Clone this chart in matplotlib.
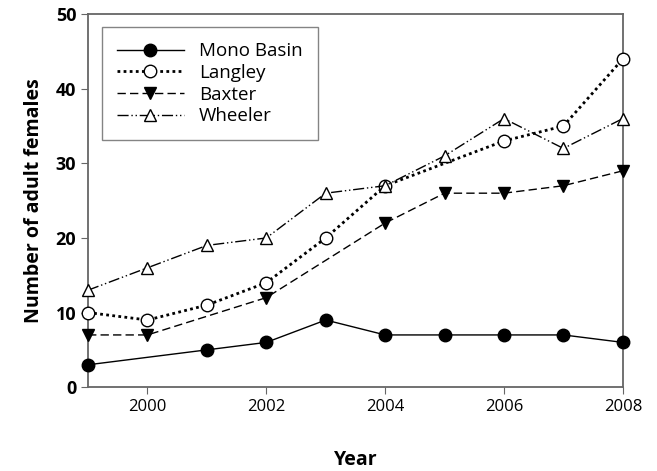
import numpy as np
import matplotlib
matplotlib.use("Agg")
import matplotlib.pyplot as plt

years = [1999, 2000, 2001, 2002, 2003, 2004, 2005, 2006, 2007, 2008]
nan = np.nan
mono_basin = [3, nan, 5, 6, 9, 7, 7, 7, 7, 6]
langley = [10, 9, 11, 14, 20, 27, nan, 33, 35, 44]
baxter = [7, 7, nan, 12, nan, 22, 26, 26, 27, 29]
wheeler = [13, 16, 19, 20, 26, 27, 31, 36, 32, 36]

plt.rcParams["font.family"] = ["Open Sans", "DejaVu Sans"]

fig = plt.figure(figsize=(6.57, 4.71), dpi=100)
ax = fig.add_axes([0.134, 0.178, 0.814, 0.792])

series = [
    ("Mono Basin", mono_basin, dict(linestyle="-", marker="o", mfc="black", ms=9)),
    ("Langley", langley, dict(linestyle=(0, (1, 1.2)), marker="o", mfc="white", ms=9, lw=2)),
    ("Baxter", baxter, dict(linestyle=(0, (6, 3)), marker="v", mfc="black", ms=9)),
    ("Wheeler", wheeler, dict(linestyle=(0, (8, 2, 1, 2, 1, 2)), marker="^", mfc="white", ms=9)),
]

x = np.array(years)
for name, vals, st in series:
    v = np.array(vals, dtype=float)
    ok = ~np.isnan(v)
    kw = dict(color="black", lw=1.0, mec="black", mew=1.0)
    kw.update(st)
    ax.plot(x[ok], v[ok], label=name, clip_on=False, zorder=3, **kw)

ax.set_xlim(1999, 2008)
ax.set_ylim(0, 50)
ax.set_xticks([2000, 2002, 2004, 2006, 2008])
ax.set_yticks([0, 10, 20, 30, 40, 50])
for s in ax.spines.values():
    s.set_color("#666666")
    s.set_linewidth(1.3)
ax.tick_params(direction="out", length=5, color="#666666")
ax.tick_params(axis="x", labelsize=12)
ax.tick_params(axis="y", labelsize=13)
for lab in ax.get_yticklabels():
    lab.set_fontweight("bold")
ax.set_xlabel("Year", fontsize=14, fontweight="bold", labelpad=25)
ax.set_ylabel("Number of adult females", fontsize=14, fontweight="bold", labelpad=8)

leg = ax.legend(loc="upper left", bbox_to_anchor=(0.008, 0.99), fontsize=13.5,
                handlelength=3.6, frameon=True, fancybox=False, borderpad=0.8,
                labelspacing=0.2, handletextpad=0.8)
leg.get_frame().set_edgecolor("#666666")
leg.get_frame().set_linewidth(1.0)

fig.savefig("out.png", dpi=100)
